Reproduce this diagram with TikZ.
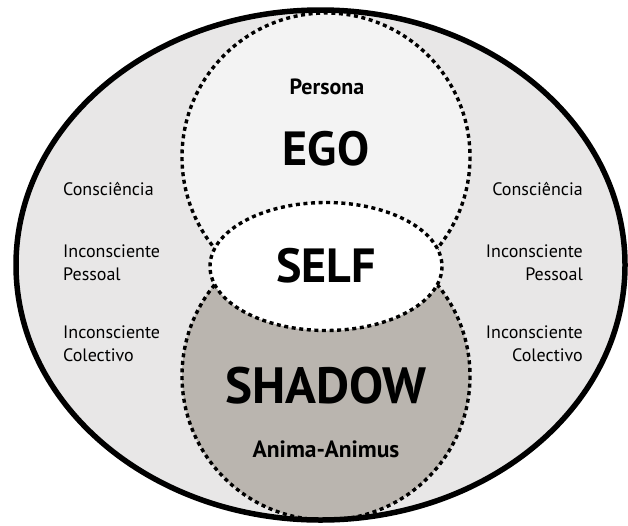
\documentclass[tikz,border=0pt]{standalone}
\usepackage{fontspec}
\setmainfont{PT Sans}
\definecolor{outerfill}{HTML}{E8E7E7}
\definecolor{egofill}{HTML}{F3F3F3}
\definecolor{shadowfill}{HTML}{BAB5AF}
\begin{document}
\begin{tikzpicture}[x=1pt,y=-1pt,
  dotline/.style={draw=black,line width=3.4pt,dash pattern=on 4pt off 3.6pt},
  side/.style={inner sep=0pt,font=\fontsize{18}{23}\selectfont},
  big/.style={inner sep=0pt,font=\fontsize{48}{52}\selectfont\bfseries},
  small/.style={inner sep=0pt,font=\fontsize{22}{24}\selectfont\bfseries}]
\useasboundingbox (0,0) rectangle (628,525);
\fill[white] (0,0) rectangle (628,525);
% outer ellipse fill
\fill[outerfill] (320.5,265) ellipse [x radius=304.5, y radius=255];
\begin{scope}
  \clip (320.5,265) ellipse [x radius=304.5, y radius=255];
  \fill[egofill] (326,157) circle [radius=144];
  \fill[shadowfill] (326,376) circle [radius=144];
  \draw[dotline] (326,157) circle [radius=144];
  \draw[dotline] (326,376) circle [radius=144];
\end{scope}
\fill[white] (326,266.5) ellipse [x radius=116, y radius=64];
\draw[dotline] (326,266.5) ellipse [x radius=116, y radius=64];
\draw[line width=5.5pt] (320.5,265) ellipse [x radius=304.5, y radius=255];
% texts
\node[small,anchor=base] (persona) at (327,94) {Persona};
\node[big,anchor=base] (ego) at (326,165) {EGO};
\node[big,anchor=base] (self) at (326,282) {SELF};
\node[big,anchor=base,font=\fontsize{51}{54}\selectfont\bfseries] (shadow) at (326,403) {SHADOW};
\node[small,anchor=base,font=\fontsize{23.5}{26}\selectfont\bfseries] (anima) at (326,457) {Anima-Animus};
\node[side,anchor=base west] (lc) at (63,195) {Consciência};
\node[side,anchor=base west] (lp1) at (63,257) {Inconsciente};
\node[side,anchor=base west] (lp2) at (63,280) {Pessoal};
\node[side,anchor=base west] (lk1) at (63,338) {Inconsciente};
\node[side,anchor=base west] (lk2) at (63,361) {Colectivo};
\node[side,anchor=base east] (rc) at (583,195) {Consciência};
\node[side,anchor=base east] (rp1) at (583,257) {Inconsciente};
\node[side,anchor=base east] (rp2) at (583,280) {Pessoal};
\node[side,anchor=base east] (rk1) at (583,338) {Inconsciente};
\node[side,anchor=base east] (rk2) at (583,361) {Colectivo};
\end{tikzpicture}
\end{document}
